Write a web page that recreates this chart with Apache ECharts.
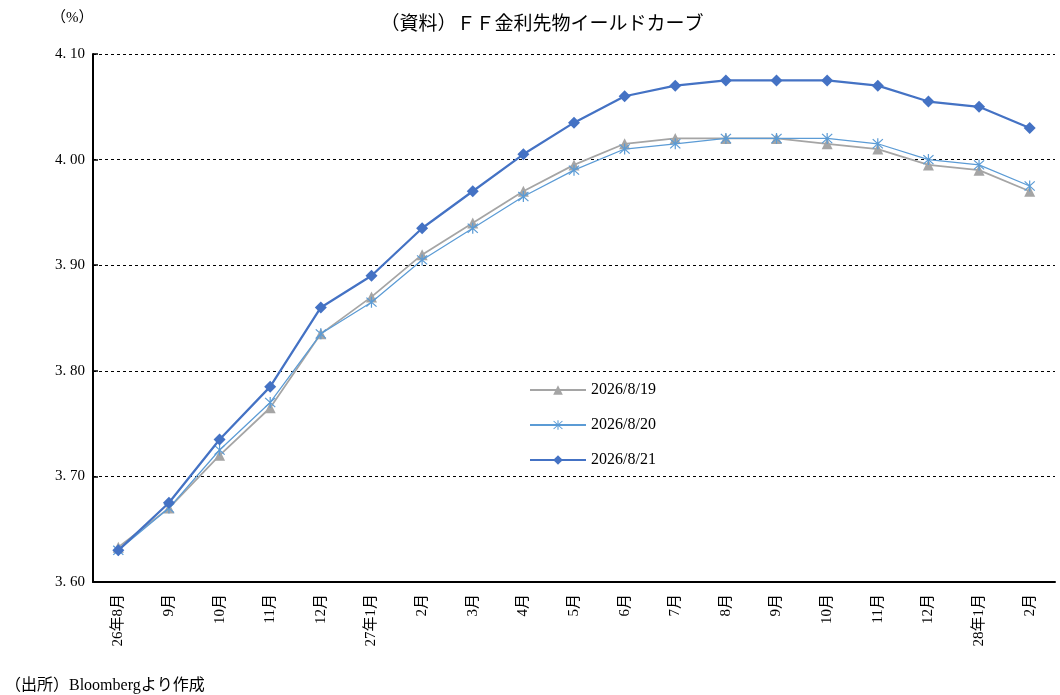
<!DOCTYPE html>
<html>
<head>
<meta charset="UTF-8">
<title>FF金利先物イールドカーブ</title>
<style>
  html, body { margin: 0; padding: 0; background: #fff; }
  #main { width: 1060px; height: 695px; }
</style>
</head>
<body>
<div id="main"></div>
<script src="https://cdn.jsdelivr.net/npm/echarts@6/dist/echarts.min.js"></script>
<script>
// 限月
var months = ['26年8月', '9月', '10月', '11月', '12月', '27年1月', '2月', '3月', '4月', '5月',
  '6月', '7月', '8月', '9月', '10月', '11月', '12月', '28年1月', '2月'];

var seriesNames = ['2026/8/19', '2026/8/20', '2026/8/21'];

var rate0819 = [3.633, 3.67, 3.72, 3.765, 3.835, 3.87, 3.91, 3.94, 3.97, 3.995,
  4.015, 4.02, 4.02, 4.02, 4.015, 4.01, 3.995, 3.99, 3.97];
var rate0820 = [3.63, 3.67, 3.725, 3.77, 3.835, 3.865, 3.905, 3.935, 3.965, 3.99,
  4.01, 4.015, 4.02, 4.02, 4.02, 4.015, 4.0, 3.995, 3.975];
var rate0821 = [3.63, 3.675, 3.735, 3.785, 3.86, 3.89, 3.935, 3.97, 4.005, 4.035,
  4.06, 4.07, 4.075, 4.075, 4.075, 4.07, 4.055, 4.05, 4.03];

var yMin = 3.6, yMax = 4.1, yStep = 0.1;

var FONT = '"Liberation Serif", "Noto Sans CJK JP", serif';

// アスタリスク型マーカー（Excel風）
var asterisk = 'path://M9 0L11 0L11 20L9 20Z M1 2.4L2.4 1L19 17.6L17.6 19Z M17.6 1L19 2.4L2.4 19L1 17.6Z';

var chart = echarts.init(document.getElementById('main'));

var option = {
  backgroundColor: '#fff',
  animation: false,
  textStyle: { fontFamily: FONT, color: '#000' },
  title: [{
    text: '（資料）ＦＦ金利先物イールドカーブ',
    left: 537, top: 11, textAlign: 'center',
    textStyle: { fontFamily: FONT, fontSize: 19, fontWeight: 'normal', color: '#000' }
  }, {
    text: '（%）',
    left: 46, top: 6,
    textStyle: { fontFamily: FONT, fontSize: 15, fontWeight: 'normal', color: '#000' }
  }, {
    text: '（出所）Bloombergより作成',
    left: 0, top: 673,
    textStyle: { fontFamily: FONT, fontSize: 16, fontWeight: 'normal', color: '#000' }
  }],
  legend: {
    orient: 'vertical',
    left: 524, top: 377,
    itemWidth: 56, itemHeight: 12, itemGap: 19,
    textStyle: { fontFamily: FONT, fontSize: 16, color: '#000' },
    data: seriesNames
  },
  grid: { left: 93, right: 5, top: 54, bottom: 113, containLabel: false },
  xAxis: {
    type: 'category',
    data: months,
    boundaryGap: true,
    axisLine: { lineStyle: { color: '#000', width: 2 } },
    axisTick: { inside: true, length: 5, lineStyle: { color: '#000', width: 1.5 } },
    axisLabel: { rotate: 90, margin: 12, fontSize: 15, color: '#000', fontFamily: FONT, interval: 0 }
  },
  yAxis: {
    type: 'value',
    min: yMin, max: yMax, interval: yStep,
    axisLine: { show: true, lineStyle: { color: '#000', width: 2 } },
    axisTick: { show: true, inside: true, length: 5, lineStyle: { color: '#000', width: 1.5 } },
    axisLabel: {
      margin: 8, fontSize: 15, color: '#000', fontFamily: FONT,
      formatter: function (v) { return v.toFixed(2).replace('.', '. '); }
    },
    splitLine: { lineStyle: { color: '#000', type: [3, 3], width: 1 } }
  },
  series: [{
    name: seriesNames[0],
    type: 'line',
    data: rate0819,
    symbol: 'triangle', symbolSize: 11,
    lineStyle: { color: '#A5A5A5', width: 1.75 },
    itemStyle: { color: '#A5A5A5' },
    z: 2
  }, {
    name: seriesNames[1],
    type: 'line',
    data: rate0820,
    symbol: asterisk, symbolSize: 11,
    lineStyle: { color: '#5B9BD5', width: 1.25 },
    itemStyle: { color: '#5B9BD5' },
    z: 3
  }, {
    name: seriesNames[2],
    type: 'line',
    data: rate0821,
    symbol: 'diamond', symbolSize: 12,
    lineStyle: { color: '#4472C4', width: 2.25 },
    itemStyle: { color: '#4472C4' },
    z: 4
  }]
};

chart.setOption(option);
</script>
</body>
</html>
